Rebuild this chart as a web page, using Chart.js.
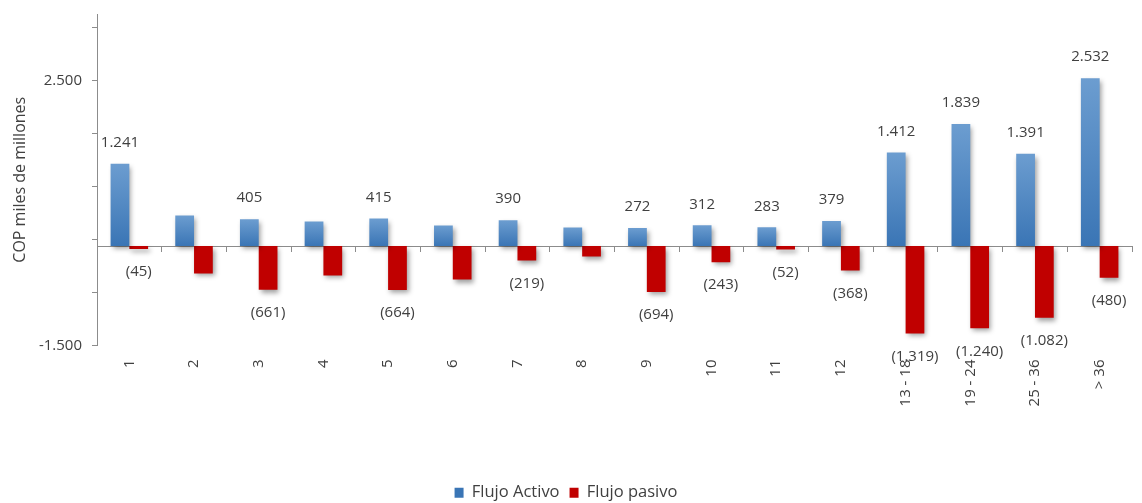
<!DOCTYPE html>
<html>
<head>
<meta charset="utf-8">
<script src="https://cdn.jsdelivr.net/npm/chart.js@4"></script>
<style>
  html, body { margin: 0; padding: 0; background: #ffffff; }
  #wrap { width: 1142px; height: 503px; }
</style>
</head>
<body>
<div id="wrap"><canvas id="chart" width="1142" height="503"></canvas></div>
<script>
// Maturity buckets (months)
const categories = ['1', '2', '3', '4', '5', '6', '7', '8', '9', '10', '11', '12',
  '13 - 18', '19 - 24', '25 - 36', '> 36'];

// COP miles de millones
const flujoActivo = [1241, 462, 405, 371, 415, 310, 390, 281, 272, 312, 283, 379, 1412, 1839, 1391, 2532];
const flujoPasivo = [-45, -414, -661, -444, -664, -505, -219, -157, -694, -243, -52, -368, -1319, -1240, -1082, -480];

// Which buckets carry a printed value
const valueShown = [true, false, true, false, true, false, true, false,
  true, true, true, true, true, true, true, true];

// Y axis tick marks and the ones that get a label
const yTickValues = [-1500, -700, 100, 900, 1700, 2500, 3300];
const yTickLabeled = [-1500, 2500];

const FONT = "'Open Sans', 'DejaVu Sans', sans-serif";
const TEXT = '#404040';
const AXIS = '#8c8c8c';
const BLUE_TOP = '#6c9dd0';
const BLUE_BOTTOM = '#3a75b5';
const RED = '#c00000';

function fmt(v) {
  const s = String(Math.abs(v)).replace(/\B(?=(\d{3})+(?!\d))/g, '.');
  return v < 0 ? '(' + s + ')' : s;
}

function blueFill(ctx) {
  const chart = ctx.chart;
  if (!chart.chartArea || ctx.type !== 'data') return '#4f86c6';
  const y = chart.scales.y;
  const top = y.getPixelForValue(ctx.raw);
  const base = y.getPixelForValue(0);
  const g = chart.ctx.createLinearGradient(0, top, 0, base);
  g.addColorStop(0, BLUE_TOP);
  g.addColorStop(1, BLUE_BOTTOM);
  return g;
}

// Soft drop shadow under the bars
const barShadow = {
  id: 'barShadow',
  beforeDatasetDraw(chart) {
    const c = chart.ctx;
    c.save();
    c.shadowColor = 'rgba(0,0,0,0.38)';
    c.shadowBlur = 5;
    c.shadowOffsetX = 2;
    c.shadowOffsetY = 3;
  },
  afterDatasetDraw(chart) {
    chart.ctx.restore();
  }
};

// Value labels above positive bars and below negative ones
const valueLabels = {
  id: 'valueLabels',
  afterDatasetsDraw(chart) {
    const c = chart.ctx;
    c.save();
    c.font = '15px ' + FONT;
    c.fillStyle = TEXT;
    c.textAlign = 'center';
    c.textBaseline = 'middle';
    chart.data.datasets.forEach((ds, di) => {
      const meta = chart.getDatasetMeta(di);
      meta.data.forEach((bar, i) => {
        if (!valueShown[i]) return;
        const v = ds.data[i];
        const y = v >= 0 ? bar.y - 21 : bar.y + 23;
        c.fillText(fmt(v), bar.x, y);
      });
    });
    c.restore();
  }
};

new Chart(document.getElementById('chart'), {
  type: 'bar',
  data: {
    labels: categories,
    datasets: [
      {
        label: 'Flujo Activo',
        data: flujoActivo,
        backgroundColor: blueFill,
        categoryPercentage: 0.58,
        barPercentage: 1.0
      },
      {
        label: 'Flujo pasivo',
        data: flujoPasivo,
        backgroundColor: RED,
        categoryPercentage: 0.58,
        barPercentage: 1.0
      }
    ]
  },
  options: {
    responsive: false,
    animation: false,
    layout: { padding: { top: 14, right: 10, bottom: -8, left: 0 } },
    plugins: {
      legend: {
        position: 'bottom',
        labels: {
          font: { family: FONT, size: 16.5 },
          color: TEXT,
          boxWidth: 9,
          boxHeight: 10,
          padding: 10
        }
      },
      tooltip: { enabled: false }
    },
    scales: {
      x: {
        position: 'bottom',
        offset: true,
        grid: { display: false, drawTicks: false },
        border: { display: false },
        ticks: {
          font: { family: FONT, size: 15 },
          color: TEXT,
          minRotation: 90,
          maxRotation: 90,
          padding: 14,
          autoSkip: false
        },
        afterFit(scale) { scale.height = 129; }
      },
      xZero: {
        type: 'category',
        position: { y: 0 },
        offset: true,
        grid: { offset: true, drawOnChartArea: false, drawTicks: true, tickLength: 5, color: AXIS },
        border: { display: true, color: AXIS, width: 1 },
        ticks: { display: false }
      },
      y: {
        min: -1500,
        max: 3500,
        afterBuildTicks(scale) {
          scale.ticks = yTickValues.map(v => ({ value: v }));
        },
        grid: { drawOnChartArea: false, drawTicks: true, tickLength: 5, color: AXIS },
        border: { display: true, color: AXIS, width: 1 },
        ticks: {
          font: { family: FONT, size: 15 },
          color: TEXT,
          padding: 10,
          callback(v) { return yTickLabeled.includes(v) ? fmt(v).replace('(', '-').replace(')', '') : ''; }
        },
        title: {
          display: true,
          text: 'COP miles de millones',
          font: { family: FONT, size: 16 },
          color: TEXT,
          padding: { top: 11, bottom: 0 }
        },
        afterFit(scale) {
          scale.width = 97;
          scale.paddingTop = 0;
          scale.paddingBottom = 0;
        }
      }
    }
  },
  plugins: [barShadow, valueLabels]
});
</script>
</body>
</html>
